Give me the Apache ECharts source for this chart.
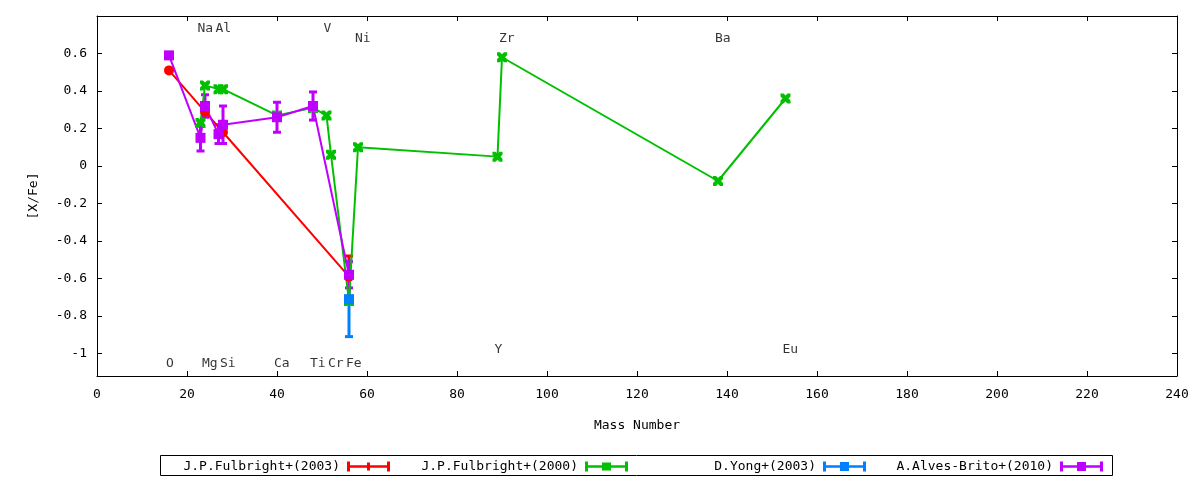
<!DOCTYPE html>
<html>
<head>
<meta charset="utf-8">
<script src="https://cdn.jsdelivr.net/npm/echarts@6/dist/echarts.min.js"></script>
<style>
  html, body { margin: 0; padding: 0; background: #fff; }
  #chart { width: 1200px; height: 480px; }
</style>
</head>
<body>
<div id="chart"></div>
<script>
// J.P.Fulbright+(2003)
var redMass = [16, 24, 28, 56];
var redVal  = [0.51, 0.29, 0.18, -0.59];
var redErr  = [0, 0, 0, 0.11];
// J.P.Fulbright+(2000)
var greenMass = [23, 24, 27, 28, 40, 48, 51, 52, 56, 58, 89, 90, 138, 153];
var greenVal  = [0.23, 0.43, 0.41, 0.41, 0.27, 0.31, 0.27, 0.06, -0.72, 0.10, 0.05, 0.58, -0.08, 0.36];
// D.Yong+(2003)
var blueMass = [56];
var blueVal  = [-0.71];
var blueErr  = [0.2];
// A.Alves-Brito+(2010)
var purpleMass = [16, 23, 24, 27, 28, 40, 48, 56];
var purpleVal  = [0.59, 0.15, 0.32, 0.17, 0.22, 0.26, 0.32, -0.58];
var purpleErr  = [0, 0.07, 0.06, 0.05, 0.1, 0.08, 0.075, 0.07];

// element labels (set label "X" at mass, y)
var elemName = ['O', 'Na', 'Mg', 'Al', 'Si', 'Ca', 'Ti', 'V', 'Cr', 'Fe', 'Ni', 'Y', 'Zr', 'Ba', 'Eu'];
var elemMass = [16, 23, 24, 27, 28, 40, 48, 51, 52, 56, 58, 89, 90, 138, 153];
var elemY    = [-1.055, 0.735, -1.055, 0.735, -1.055, -1.055, -1.055, 0.735, -1.055, -1.055, 0.68, -0.978, 0.68, 0.68, -0.978];

var yTicks = [-1, -0.8, -0.6, -0.4, -0.2, 0, 0.2, 0.4, 0.6];

var FONT = 'DejaVu Sans Mono';
var RED = '#ff0000', GREEN = '#00c000', BLUE = '#0080ff', PURPLE = '#c000ff';

function pairs(xs, ys) {
  return xs.map(function (x, i) { return [x, ys[i]]; });
}
function triples(xs, ys, es) {
  return xs.map(function (x, i) { return [x, ys[i], es[i]]; });
}

function errItem(params, api) {
  var x = api.value(0), y = api.value(1), e = api.value(2);
  if (!e) return null;
  var top = api.coord([x, y + e]);
  var bot = api.coord([x, y - e]);
  var style = { stroke: api.visual('color'), lineWidth: 3 };
  return {
    type: 'group',
    children: [
      { type: 'line', shape: { x1: top[0], y1: top[1], x2: bot[0], y2: bot[1] }, style: style },
      { type: 'line', shape: { x1: top[0] - 4, y1: top[1], x2: top[0] + 4, y2: top[1] }, style: style },
      { type: 'line', shape: { x1: bot[0] - 4, y1: bot[1], x2: bot[0] + 4, y2: bot[1] }, style: style }
    ]
  };
}

function errSeries(name, color, data) {
  return {
    name: name,
    type: 'custom',
    renderItem: errItem,
    itemStyle: { color: color },
    encode: { x: 0, y: 1 },
    data: data,
    silent: true
  };
}

function lineSeries(name, color, symbol, data) {
  return {
    name: name,
    type: 'line',
    data: data,
    symbol: symbol,
    symbolSize: 10,
    showAllSymbol: true,
    color: color,
    itemStyle: { color: color },
    lineStyle: { color: color, width: 2 }
  };
}

var capBar = 'M0,0h3v10h-3z M3,3.8h37v2.4h-37z M40,0h3v10h-3z ';
var iconRed = 'path://' + capBar + 'M20,1h3v8h-3z';
var iconGreen = 'path://' + capBar + 'M17,1h9v8h-9z';
var iconSquare = 'path://' + capBar + 'M17,0.5h9v9h-9z';
var crossSym = 'path://M0,0L3,0L5,2L7,0L10,0L10,3L8,5L10,7L10,10L7,10L5,8L3,10L0,10L0,7L2,5L0,3Z';

function legendAt(name, icon, right) {
  return {
    data: [{ name: name, icon: icon }],
    right: right,
    top: 460,
    align: 'right',
    padding: 0,
    itemWidth: 43,
    itemHeight: 10,
    selectedMode: false,
    textStyle: { fontFamily: FONT, fontSize: 13, color: '#000', padding: [0, 2, 0, 0] }
  };
}

var axisLine = { show: true, onZero: false, lineStyle: { color: '#000', width: 1 } };

var chart = echarts.init(document.getElementById('chart'));

var option = {
  animation: false,
  backgroundColor: '#fff',
  textStyle: { fontFamily: FONT, fontSize: 13, color: '#000' },
  grid: { left: 97, right: 23, top: 16, bottom: 104, containLabel: false },
  legend: [
    legendAt('J.P.Fulbright+(2003)', iconRed, 810),
    legendAt('J.P.Fulbright+(2000)', iconGreen, 572),
    legendAt('D.Yong+(2003)', iconSquare, 334),
    legendAt('A.Alves-Brito+(2010)', iconSquare, 97)
  ],
  graphic: [{
    type: 'rect',
    shape: { x: 160.5, y: 455.5, width: 952, height: 20 },
    style: { fill: 'none', stroke: '#000', lineWidth: 1 },
    silent: true
  }],
  xAxis: [{
    type: 'value',
    min: 0, max: 240, interval: 20,
    name: 'Mass Number',
    nameLocation: 'middle',
    nameGap: 43,
    nameTextStyle: { fontFamily: FONT, fontSize: 13, color: '#000' },
    axisLine: axisLine,
    axisTick: { show: true, inside: true, length: 5, lineStyle: { color: '#000' } },
    axisLabel: { color: '#000', fontFamily: FONT, fontSize: 13, margin: 12 },
    splitLine: { show: false }
  }, {
    type: 'value',
    position: 'top',
    min: 0, max: 240, interval: 20,
    axisLine: axisLine,
    axisTick: { show: true, inside: true, length: 5, lineStyle: { color: '#000' } },
    axisLabel: { show: false },
    splitLine: { show: false }
  }],
  yAxis: [{
    type: 'value',
    position: 'left',
    min: -1.12, max: 0.8,
    name: '[X/Fe]',
    nameLocation: 'middle',
    nameGap: 57,
    nameTextStyle: { fontFamily: FONT, fontSize: 13, color: '#000' },
    axisLine: axisLine,
    axisTick: { show: true, inside: true, length: 5, customValues: yTicks, lineStyle: { color: '#000' } },
    axisLabel: { color: '#000', fontFamily: FONT, fontSize: 13, margin: 10, customValues: yTicks },
    splitLine: { show: false }
  }, {
    type: 'value',
    position: 'right',
    min: -1.12, max: 0.8,
    axisLine: axisLine,
    axisTick: { show: true, inside: true, length: 5, customValues: yTicks, lineStyle: { color: '#000' } },
    axisLabel: { show: false, customValues: yTicks },
    splitLine: { show: false }
  }],
  series: [
    errSeries('err2003', RED, triples(redMass, redVal, redErr)),
    lineSeries('J.P.Fulbright+(2003)', RED, 'circle', pairs(redMass, redVal)),
    lineSeries('J.P.Fulbright+(2000)', GREEN, crossSym, pairs(greenMass, greenVal)),
    errSeries('errYong', BLUE, triples(blueMass, blueVal, blueErr)),
    lineSeries('D.Yong+(2003)', BLUE, 'rect', pairs(blueMass, blueVal)),
    errSeries('errAlves', PURPLE, triples(purpleMass, purpleVal, purpleErr)),
    lineSeries('A.Alves-Brito+(2010)', PURPLE, 'rect', pairs(purpleMass, purpleVal)),
    {
      name: 'elements',
      type: 'scatter',
      symbolSize: 1,
      itemStyle: { color: 'transparent' },
      silent: true,
      data: elemName.map(function (n, i) { return { name: n, value: [elemMass[i], elemY[i]] }; }),
      label: {
        show: true,
        position: 'inside',
        align: 'left',
        verticalAlign: 'middle',
        offset: [-3, 0],
        formatter: '{b}',
        color: '#000',
        fontFamily: FONT,
        fontSize: 13
      }
    }
  ]
};

chart.setOption(option);
</script>
</body>
</html>
